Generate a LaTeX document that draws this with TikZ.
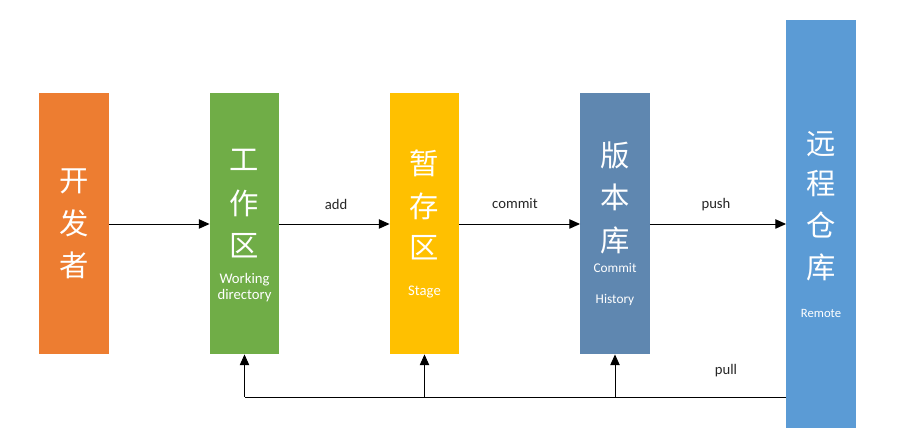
\documentclass[tikz,border=0pt]{standalone}
\usepackage{fontspec}
\setmainfont{Carlito}
\newfontfamily\cjk{Noto Sans CJK SC}
\usetikzlibrary{arrows.meta}
\definecolor{corange}{HTML}{ED7D31}
\definecolor{cgreen}{HTML}{70AD47}
\definecolor{cyellow}{HTML}{FFC000}
\definecolor{cslate}{HTML}{5F87B0}
\definecolor{cblue}{HTML}{5B9BD5}
\definecolor{cline}{HTML}{000000}
\tikzset{
  box/.style={draw=none, inner sep=0pt, rectangle, minimum width=52pt},
  bigc/.style={text=white, font=\cjk\fontsize{22}{22}\selectfont, inner sep=0pt},
  smallt/.style={text=white, font=\fontsize{11}{12}\selectfont, inner sep=0pt, align=center},
  lbl/.style={text=black!85, font=\fontsize{11}{12}\selectfont, inner sep=0pt},
  arr/.style={-{Triangle[length=8pt,width=7pt]}, line width=0.7pt, draw=cline},
  ln/.style={line width=0.7pt, draw=cline}
}
\begin{document}
\begin{tikzpicture}[x=0.75pt,y=-0.75pt]
\useasboundingbox (0,0) rectangle (897,441);
% boxes
\node[box, fill=corange, minimum height=196pt] (dev) at (74,223.5) {};
\node[box, fill=cgreen, minimum height=196pt] (work) at (244.5,223.5) {};
\node[box, fill=cyellow, minimum height=196pt] (stage) at (424.5,223.5) {};
\node[box, fill=cslate, minimum height=196pt] (repo) at (615,223.5) {};
\node[box, fill=cblue, minimum height=306pt] (remote) at (821,224) {};
% texts
\node[bigc] (d1) at (74,181) {开};
\node[bigc] (d2) at (74,223) {发};
\node[bigc] (d3) at (74,265) {者};
\node[bigc] (w1) at (244.5,160) {工};
\node[bigc] (w2) at (244.5,203) {作};
\node[bigc] (w3) at (244.5,246) {区};
\node[smallt] (w4) at (244.5,287.5) {Working\\[-0.5pt]directory};
\node[bigc] (s1) at (424.5,163) {暂};
\node[bigc] (s2) at (424.5,206) {存};
\node[bigc] (s3) at (424.5,248) {区};
\node[smallt] (s4) at (424.5,292) {Stage};
\node[smallt, font=\fontsize{10}{11}\selectfont] (r4) at (615,268) {Commit};
\node[bigc] (r1) at (615,155) {版};
\node[bigc] (r2) at (615,197) {本};
\node[bigc] (r3) at (615,240) {库};
\node[smallt, font=\fontsize{10}{11}\selectfont] (r5) at (615,300) {History};
\node[bigc] (m1) at (821,144) {远};
\node[bigc] (m2) at (821,184) {程};
\node[bigc] (m3) at (821,225) {仓};
\node[bigc] (m4) at (821,267) {库};
\node[smallt, font=\fontsize{9.5}{10}\selectfont] (m5) at (821,313) {Remote};
% labels
\node[lbl] (ladd) at (336,204) {add};
\node[lbl] (lcommit) at (515,204) {commit};
\node[lbl] (lpush) at (716,205) {push};
\node[lbl] (lpull) at (726,371) {pull};
% arrows
\draw[arr] (dev.east |- 0,224) -- (work.west |- 0,224);
\draw[arr] (work.east |- 0,224) -- (stage.west |- 0,224);
\draw[arr] (stage.east |- 0,224) -- (repo.west |- 0,224);
\draw[arr] (repo.east |- 0,224) -- (remote.west |- 0,224);
% pull lines
\coordinate (pr) at (remote.west |- 0,397);
\coordinate (pw) at (work.south |- 0,397);
\coordinate (ps) at (stage.south |- 0,397);
\coordinate (pv) at (repo.south |- 0,397);
\draw[ln] (pr) -- (pw);
\draw[arr] (pw) -- (work.south);
\draw[arr] (ps) -- (stage.south);
\draw[arr] (pv) -- (repo.south);
\end{tikzpicture}
\end{document}
